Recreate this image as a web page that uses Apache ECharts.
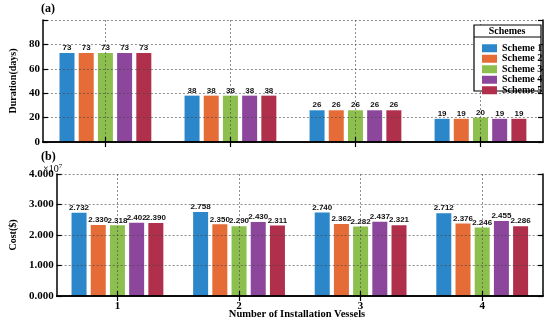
<!DOCTYPE html>
<html><head><meta charset="utf-8">
<script src="https://cdn.jsdelivr.net/npm/echarts@6/dist/echarts.min.js"></script>
<style>html,body{margin:0;padding:0;background:#fff}#c{width:550px;height:324px}</style>
</head><body><div id="c"></div>
<script>
const categories = ['1', '2', '3', '4'];
const schemes = ['Scheme 1', 'Scheme 2', 'Scheme 3', 'Scheme 4', 'Scheme 5'];
// Duration (days) per scheme, indexed by number of vessels
const duration1 = [73, 38, 26, 19];
const duration2 = [73, 38, 26, 19];
const duration3 = [73, 38, 26, 20];
const duration4 = [73, 38, 26, 19];
const duration5 = [73, 38, 26, 19];
// Cost ($, ×10^7)
const cost1 = [2.732, 2.758, 2.740, 2.712];
const cost2 = [2.330, 2.350, 2.362, 2.376];
const cost3 = [2.318, 2.290, 2.282, 2.246];
const cost4 = [2.402, 2.430, 2.437, 2.455];
const cost5 = [2.390, 2.311, 2.321, 2.286];
const durationTicks = ['0', '20', '40', '60', '80'];
const costTicks = ['0.000', '1.000', '2.000', '3.000', '4.000'];

const colors = ['#2C87CA', '#E56C36', '#8DBF4F', '#8C479D', '#B02F4A'];
const durations = [duration1, duration2, duration3, duration4, duration5];
const costs = [cost1, cost2, cost3, cost4, cost5];
const serif = '"Liberation Serif", "Times New Roman", serif';
const sans = '"Liberation Sans", Arial, sans-serif';

const chart = echarts.init(document.getElementById('c'), null, {renderer: 'canvas'});
const axisLine = {show: true, lineStyle: {color: '#000', width: 1.5}};
const dashed = {show: true, lineStyle: {color: 'rgba(70,70,70,0.75)', type: [2, 2], width: 0.8}};
const tick = {show: true, inside: true, length: 5, lineStyle: {color: '#000', width: 1.2}};
function xAxes(gi, showLabels) {
  return [
    {type: 'category', gridIndex: gi, data: categories, position: 'bottom', z: 5,
     axisLine: axisLine, axisTick: Object.assign({alignWithLabel: true}, tick),
     splitLine: {show: false},
     axisLabel: {show: showLabels, fontFamily: serif, fontWeight: 'bold', fontSize: 11, color: '#000', margin: 5}},
    {type: 'category', gridIndex: gi, data: categories, position: 'top', z: 5,
     axisLine: axisLine, axisTick: Object.assign({alignWithLabel: true}, tick),
     splitLine: Object.assign({alignWithLabel: true}, dashed), axisLabel: {show: false}}
  ];
}
function yAxes(gi, max, interval, ticks, name, nameGap) {
  return [
    {type: 'value', gridIndex: gi, min: 0, max: max, interval: interval, z: 5,
     name: name, nameLocation: 'middle', nameGap: nameGap,
     nameTextStyle: {fontFamily: serif, fontWeight: 'bold', fontSize: 10, color: '#000'},
     axisLine: axisLine, axisTick: tick,
     splitLine: dashed,
     axisLabel: {fontFamily: serif, fontWeight: 'bold', fontSize: 11, color: '#000', margin: 3,
       formatter: (v, i) => ticks[i] !== undefined ? ticks[i] : ''}},
    {type: 'value', gridIndex: gi, min: 0, max: max, interval: interval, position: 'right', z: 5,
     axisLine: axisLine, axisTick: tick,
     splitLine: {show: false}, axisLabel: {show: false}}
  ];
}
const series = [];
schemes.forEach((s, i) => {
  series.push({name: s, type: 'bar', xAxisIndex: 0, yAxisIndex: 0, data: durations[i],
    barWidth: 15, barGap: '28%', itemStyle: {color: colors[i]},
    label: {show: true, position: 'top', distance: 1, fontFamily: sans, fontWeight: 'bold', fontSize: 8, color: '#111'}});
  series.push({name: s, type: 'bar', xAxisIndex: 2, yAxisIndex: 2, data: costs[i],
    barWidth: 15, barGap: '28%', itemStyle: {color: colors[i]},
    label: {show: true, position: 'top', distance: 1, fontFamily: sans, fontWeight: 'bold', fontSize: 8, color: '#111',
      formatter: p => p.value.toFixed(3)}});
});
chart.setOption({
  animation: false,
  backgroundColor: '#fff',
  grid: [
    {left: 41, right: 7, top: 20, height: 122},
    {left: 41, right: 7, top: 174, height: 122}
  ],
  xAxis: [...xAxes(0, false), ...xAxes(1, true)],
  yAxis: [...yAxes(0, 100, 20, durationTicks, 'Duration(days)', 18), ...yAxes(1, 4, 1, costTicks, 'Cost($)', 31)],
  legend: {orient: 'vertical', left: 477, top: 38, itemWidth: 15, itemHeight: 8, itemGap: 0, z: 20,
    data: schemes, icon: 'rect',
    textStyle: {fontFamily: serif, fontWeight: 'bold', fontSize: 10, color: '#000', lineHeight: 10.5}},
  graphic: [
    {type: 'rect', z: 15, shape: {x: 474, y: 25, width: 67, height: 66}, style: {fill: '#fff', stroke: '#000', lineWidth: 1.2}},
    {type: 'line', z: 16, shape: {x1: 474, y1: 37, x2: 541, y2: 37}, style: {stroke: '#000', lineWidth: 1}},
    {type: 'text', z: 16, x: 507, y: 31, style: {text: 'Schemes', fontFamily: serif, fontWeight: 'bold', fontSize: 10, fill: '#000', align: 'center', verticalAlign: 'middle'}},
    {type: 'text', x: 41, y: 9, style: {text: '(a)', fontFamily: serif, fontWeight: 'bold', fontSize: 12, fill: '#000', verticalAlign: 'middle'}},
    {type: 'text', x: 41, y: 157, style: {text: '(b)', fontFamily: serif, fontWeight: 'bold', fontSize: 12, fill: '#000', verticalAlign: 'middle'}},
    {type: 'text', x: 43, y: 169, style: {text: '×10{s|7}', fontFamily: serif, fontSize: 10, fill: '#000', verticalAlign: 'middle',
      rich: {s: {fontFamily: serif, fontSize: 7, verticalAlign: 'top', padding: [0, 0, 6, 0]}}}},
    {type: 'text', x: 297, y: 314, style: {text: 'Number of Installation Vessels', fontFamily: serif, fontWeight: 'bold', fontSize: 10.5, fill: '#000', align: 'center', verticalAlign: 'middle'}}
  ],
  series: series
});
</script></body></html>
